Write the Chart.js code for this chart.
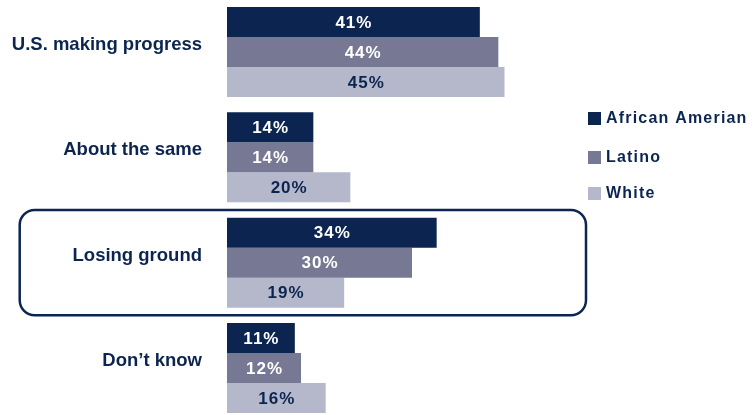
<!DOCTYPE html>
<html>
<head>
<meta charset="utf-8">
<script src="https://cdn.jsdelivr.net/npm/chart.js@4.4.1/dist/chart.umd.min.js"></script>
<style>
    html, body { margin: 0; padding: 0; background: #fff; }
    #wrap { width: 753px; height: 415px; }
</style>
</head>
<body>
<div id="wrap"><canvas id="myChart" width="753" height="415"></canvas></div>
<script>
const categories = ['U.S. making progress', 'About the same', 'Losing ground', 'Don\u2019t know'];
const seriesNames = ['African Amerian', 'Latino', 'White'];
const africanAmerican = [41, 14, 34, 11];
const latino = [44, 14, 30, 12];
const white = [45, 20, 19, 16];
const highlighted = 'Losing ground';

const navy = '#0b2550';
const colors = ['#0b2550', '#777893', '#b5b8cb'];
const labelColors = ['#ffffff', '#ffffff', '#0b2550'];

// percent labels centred in each bar
const valueLabels = {
    id: 'valueLabels',
    afterDatasetsDraw(chart) {
        const ctx = chart.ctx;
        ctx.save();
        ctx.font = 'bold 17px "Liberation Sans", Arial, sans-serif';
        ctx.letterSpacing = '1px';
        ctx.textAlign = 'center';
        ctx.textBaseline = 'middle';
        chart.data.datasets.forEach((ds, i) => {
            const meta = chart.getDatasetMeta(i);
            meta.data.forEach((bar, j) => {
                ctx.fillStyle = labelColors[i];
                const cx = (bar.x + bar.base) / 2 + 0.5;
                ctx.fillText(ds.data[j] + '%', cx, bar.y + 1);
            });
        });
        ctx.restore();
    }
};

// rounded frame around one category
const frame = {
    id: 'frame',
    afterDraw(chart) {
        const y = chart.scales.y;
        const idx = categories.indexOf(highlighted);
        const band = y.getPixelForValue(1) - y.getPixelForValue(0);
        const cy = y.getPixelForValue(idx);
        const ctx = chart.ctx;
        ctx.save();
        ctx.strokeStyle = navy;
        ctx.lineWidth = 2.5;
        ctx.beginPath();
        ctx.roundRect(19.7, cy - band / 2, 566.3, band, 15);
        ctx.stroke();
        ctx.restore();
    }
};

// legend with square swatches on the right
const sideLegend = {
    id: 'sideLegend',
    afterDraw(chart) {
        const ctx = chart.ctx;
        ctx.save();
        ctx.font = 'bold 16px "Liberation Sans", Arial, sans-serif';
        ctx.letterSpacing = '1.2px';
        ctx.textAlign = 'left';
        ctx.textBaseline = 'middle';
        const tops = [112, 151, 187];
        chart.data.datasets.forEach((ds, i) => {
            ctx.fillStyle = ds.backgroundColor;
            ctx.fillRect(588, tops[i], 13, 13);
            ctx.fillStyle = navy;
            ctx.fillText(ds.label, 606, tops[i] + 7);
        });
        ctx.restore();
    }
};

const config = {
    type: 'bar',
    data: {
        labels: categories,
        datasets: [
            { label: seriesNames[0], data: africanAmerican, backgroundColor: colors[0] },
            { label: seriesNames[1], data: latino, backgroundColor: colors[1] },
            { label: seriesNames[2], data: white, backgroundColor: colors[2] }
        ]
    },
    options: {
        indexAxis: 'y',
        responsive: false,
        animation: false,
        devicePixelRatio: 1,
        layout: {
            padding: { left: 0, right: 156, top: 52, bottom: 47 }
        },
        datasets: {
            bar: {
                categoryPercentage: 0.855,
                barPercentage: 1,
                borderWidth: 0,
                clip: false
            }
        },
        scales: {
            x: {
                display: false,
                min: 0,
                max: 60
            },
            y: {
                offset: false,
                grid: { display: false, drawTicks: false },
                border: { display: false },
                ticks: {
                    padding: 25,
                    labelOffset: -7,
                    color: navy,
                    font: { family: '"Liberation Sans", Arial, sans-serif', size: 18.5, weight: 'bold' }
                },
                afterFit(scale) {
                    scale.width = 227;
                }
            }
        },
        plugins: {
            legend: { display: false },
            tooltip: { enabled: false }
        }
    },
    plugins: [valueLabels, frame, sideLegend]
};

const chart = new Chart(document.getElementById('myChart'), config);
</script>
</body>
</html>
